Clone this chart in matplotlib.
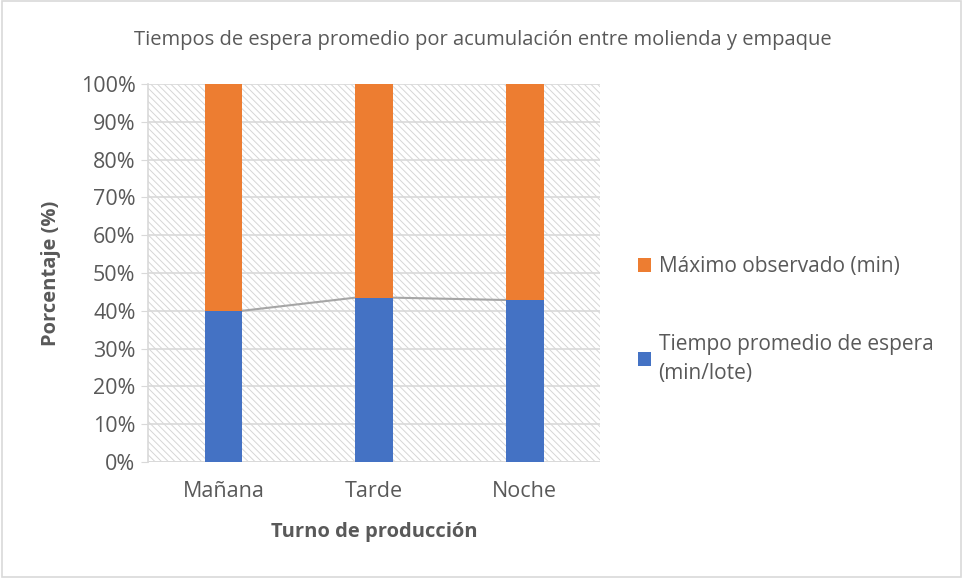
import matplotlib
matplotlib.use('Agg')

import matplotlib.pyplot as plt
import numpy as np
import matplotlib.ticker as ticker
from matplotlib.patches import Rectangle

# Turnos y valores (min)
turnos = ['Mañana', 'Tarde', 'Noche']
tiempo_promedio = [18.0, 20.0, 15.0]      # min/lote
maximo_observado = [27.0, 26.0, 20.0]     # min

series_names = ['Tiempo promedio de espera\n(min/lote)', 'Máximo observado (min)']
colors = ['#4472C4', '#ED7D31']

TEXT = '#595959'
plt.rcParams['font.family'] = ['Open Sans', 'DejaVu Sans']
plt.rcParams['hatch.color'] = '#d6d6d6'
plt.rcParams['hatch.linewidth'] = 0.7

prom = np.array(tiempo_promedio)
maxi = np.array(maximo_observado)
total = prom + maxi
p_prom = prom / total
p_max = maxi / total

fig = plt.figure(figsize=(9.63, 5.78), dpi=100, facecolor='white')
ax = fig.add_axes([148 / 963, 1 - 462 / 578, 452 / 963, 378 / 578])

# Fondo rayado
bg = Rectangle((0, 0), 1, 1, transform=ax.transAxes, facecolor='white',
               edgecolor='#d6d6d6', hatch='\\\\\\\\\\', linewidth=0, zorder=0)
ax.add_patch(bg)

x = np.arange(len(turnos))
width = 0.25
ax.bar(x, p_prom, width=width, color=colors[0], label=series_names[0], zorder=3)
ax.bar(x, p_max, width=width, bottom=p_prom, color=colors[1], label=series_names[1], zorder=3)

# Lineas de serie entre barras
for i in range(len(x) - 1):
    ax.plot([x[i] + width / 2, x[i + 1] - width / 2], [p_prom[i], p_prom[i + 1]],
            color='#a6a6a6', linewidth=1.5, zorder=2)

ax.set_xlim(-0.5, len(turnos) - 0.5)
ax.set_ylim(0, 1)
ax.set_xticks(x)
ax.set_xticklabels(turnos, fontsize=15.5, color=TEXT)
ax.yaxis.set_major_locator(ticker.MultipleLocator(0.1))
ax.yaxis.set_major_formatter(ticker.FuncFormatter(lambda v, _: f'{v * 100:.0f}%'))
ax.tick_params(axis='y', labelsize=15.5, labelcolor=TEXT, length=5, color='#d9d9d9', pad=4)
ax.tick_params(axis='x', length=0, pad=14)

ax.yaxis.grid(True, color='#d9d9d9', linewidth=1.2, zorder=1)
ax.set_axisbelow(True)
ax.spines[['top', 'right', 'bottom']].set_visible(False)
ax.spines['left'].set_color('#d9d9d9')
ax.spines['left'].set_linewidth(1.2)
ax.axhline(0, color='#d9d9d9', linewidth=1.2, zorder=2)

ax.set_ylabel('Porcentaje (%)', fontsize=14.5, fontweight='bold', color=TEXT, labelpad=14)
ax.set_xlabel('Turno de producción', fontsize=14.5, fontweight='bold', color=TEXT, labelpad=14)

fig.text(483 / 963, 1 - 40 / 578, 'Tiempos de espera promedio por acumulación entre molienda y empaque',
         ha='center', va='center', fontsize=14.5, color=TEXT)

handles, labels = ax.get_legend_handles_labels()
leg = fig.legend(handles[::-1], labels[::-1], loc='center left', bbox_to_anchor=(619 / 963, 1 - 320 / 578),
                 frameon=False, fontsize=15, labelspacing=2.7, handlelength=0.65, handleheight=0.65,
                 handletextpad=0.35)
for t in leg.get_texts():
    t.set_color(TEXT)
    t.set_linespacing(1.5)

# Borde del grafico
fig.patches.append(Rectangle((0.002, 0.002), 0.996, 0.996, transform=fig.transFigure,
                             fill=False, edgecolor='#d9d9d9', linewidth=1.2))

plt.savefig('out.png', facecolor=fig.get_facecolor())
plt.close()
